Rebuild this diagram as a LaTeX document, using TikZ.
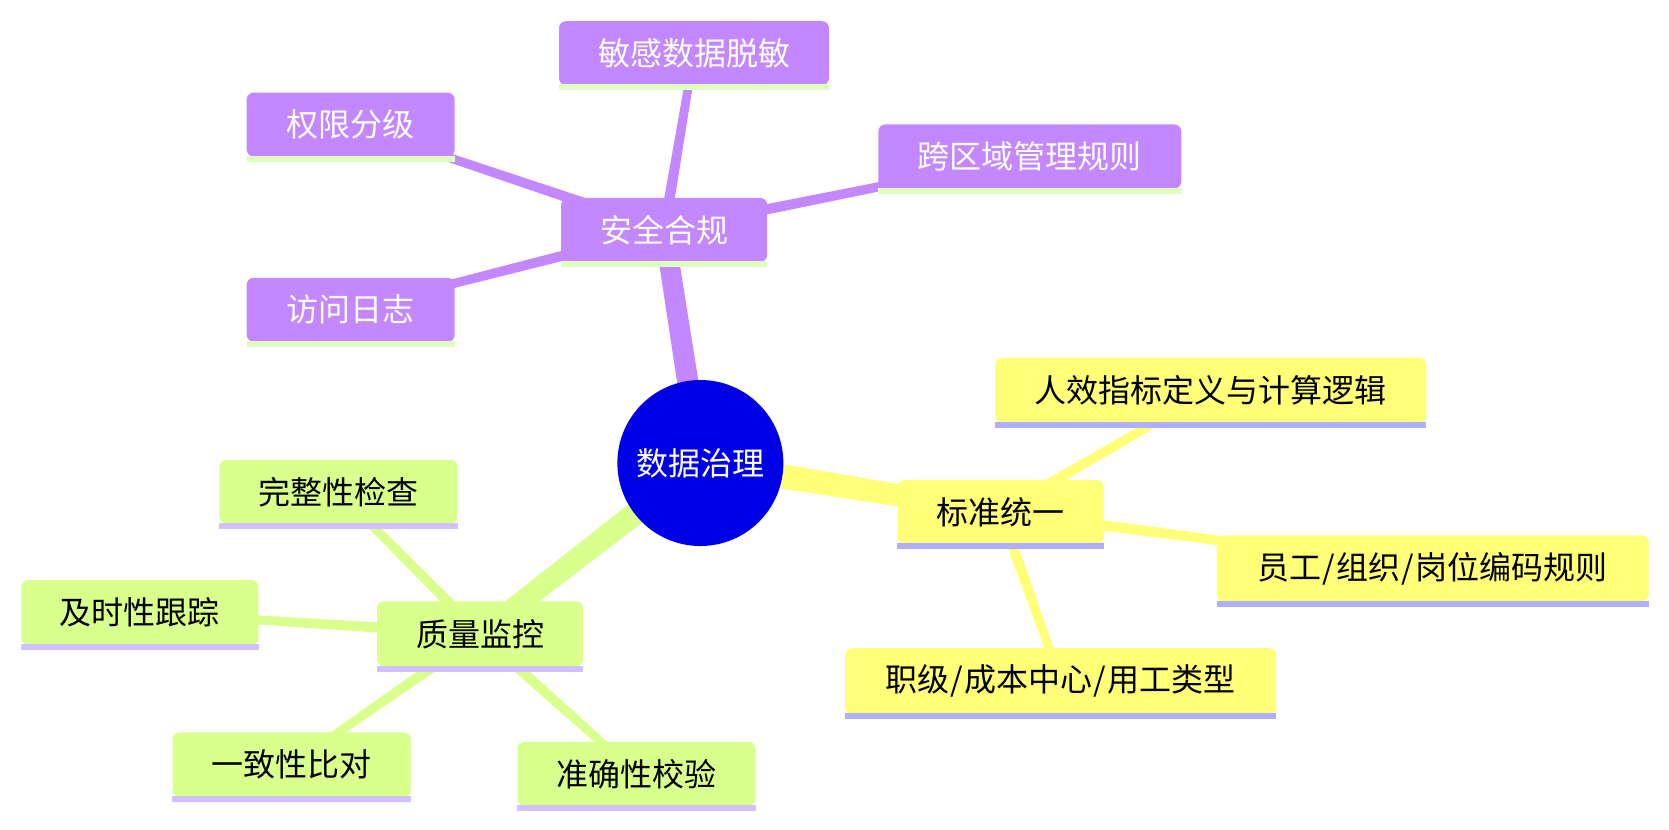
\documentclass[tikz,border=0pt]{standalone}
\usepackage{fontspec}
\setmainfont{Noto Sans CJK SC}
\usetikzlibrary{calc}
\pgfdeclarelayer{bg}
\pgfsetlayers{bg,main}
\definecolor{purp}{HTML}{C387FF}
\definecolor{purpbar}{HTML}{DFFFC0}
\definecolor{yel}{HTML}{FFFF78}
\definecolor{yelbar}{HTML}{AEB0FF}
\definecolor{grn}{HTML}{D9FF8C}
\definecolor{grnbar}{HTML}{D3C1FF}
\definecolor{rootblue}{HTML}{0000E6}
\newcommand\myslash{\hspace{0.04em}/\hspace{0.04em}}
\newcommand\taper[5]{\fill[#5] ($(#1)!#3!90:(#2)$) -- ($(#2)!#4!-90:(#1)$) -- ($(#2)!#4!90:(#1)$) -- ($(#1)!#3!-90:(#2)$) -- cycle;}
\newcommand\ubar[2]{\fill[#2] ([yshift=1pt]#1.south west) rectangle ([yshift=-5pt]#1.south east);}
\begin{document}
\begin{tikzpicture}[x=1.0644pt,y=-1.0644pt,
  box/.style={rectangle, rounded corners=7pt, minimum height=64pt, inner sep=0pt, font=\fontsize{32}{38}\selectfont},
  pbox/.style={box, fill=purp, text=white},
  ybox/.style={box, fill=yel, text=black},
  gbox/.style={box, fill=grn, text=black},
  rootnode/.style={circle, fill=rootblue, text=white, minimum size=166pt, inner sep=0pt, font=\fontsize{32}{38}\selectfont}]
\useasboundingbox (0,0) rectangle (1568,779);
\node[rootnode] (root) at (658,435) {数据治理};
% security
\node[pbox, minimum width=206pt] (sec) at (624,216) {安全合规};
\node[pbox, minimum width=270pt] (sec1) at (652,50) {敏感数据脱敏};
\node[pbox, minimum width=208pt] (sec2) at (329.5,117) {权限分级};
\node[pbox, minimum width=303pt] (sec3) at (967.5,147) {跨区域管理规则};
\node[pbox, minimum width=208pt] (sec4) at (329.5,291) {访问日志};
% standard
\node[ybox, minimum width=206pt] (std) at (940,481) {标准统一};
\node[ybox, minimum width=431pt, minimum height=65pt] (std1) at (1137.5,366.5) {人效指标定义与计算逻辑};
\node[ybox, minimum width=432pt, minimum height=66pt] (std2) at (1346,534) {员工\myslash 组织\myslash 岗位编码规则};
\node[ybox, minimum width=431pt, minimum height=66pt] (std3) at (996.5,640) {职级\myslash 成本中心\myslash 用工类型};
% quality
\node[gbox, minimum width=206pt, minimum height=65pt] (qua) at (451,595.5) {质量监控};
\node[gbox, minimum width=238pt] (qua1) at (318,462) {完整性检查};
\node[gbox, minimum width=237pt, minimum height=65pt] (qua2) at (131.5,575.5) {及时性跟踪};
\node[gbox, minimum width=238pt, minimum height=65pt] (qua3) at (274,718.5) {一致性比对};
\node[gbox, minimum width=238pt] (qua4) at (598,727) {准确性校验};
% bars
\foreach \n in {sec,sec1,sec2,sec3,sec4}{\ubar{\n}{purpbar}}
\foreach \n in {std,std1,std2,std3}{\ubar{\n}{yelbar}}
\foreach \n in {qua,qua1,qua2,qua3,qua4}{\ubar{\n}{grnbar}}
\begin{pgfonlayer}{bg}
\taper{root}{sec}{11pt}{10pt}{purp}
\taper{root}{std}{13pt}{10pt}{yel}
\taper{root}{qua}{12pt}{10pt}{grn}
\foreach \n in {sec1,sec2,sec3,sec4}{\taper{sec}{\n}{5.5pt}{4pt}{purp}}
\foreach \n in {std1,std2,std3}{\taper{std}{\n}{5.5pt}{4pt}{yel}}
\foreach \n in {qua1,qua2,qua3,qua4}{\taper{qua}{\n}{5.5pt}{4pt}{grn}}
\end{pgfonlayer}
\end{tikzpicture}
\end{document}
